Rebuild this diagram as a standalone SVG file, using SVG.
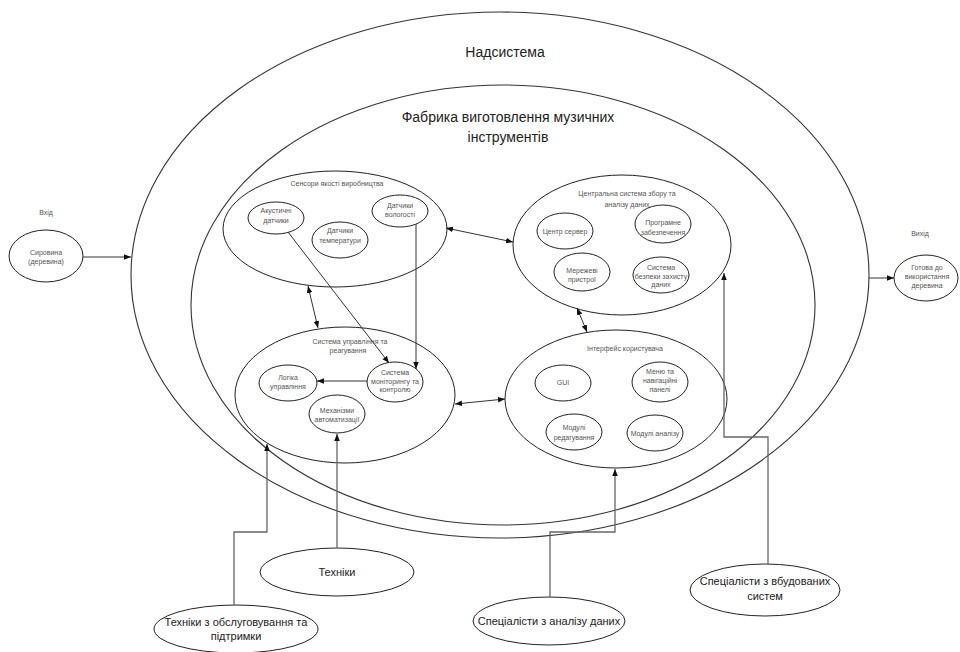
<svg xmlns="http://www.w3.org/2000/svg" width="960" height="652" viewBox="0 0 960 652">
  <defs>
    <marker id="arr" viewBox="0 0 10 10" refX="10" refY="5" markerWidth="7" markerHeight="7" orient="auto-start-reverse" markerUnits="userSpaceOnUse">
      <path d="M0,1 L10,5 L0,9 z" fill="#111"/>
    </marker>
    <style>
      .ell { fill: #fff; stroke: #222; stroke-width: 1; }
      .big { fill: none; stroke: #333; stroke-width: 1.1; }
      .sm { font-family: "Liberation Sans", Arial, sans-serif; font-size: 7px; fill: #555; text-anchor: middle; }
      .lg { font-family: "Liberation Sans", Arial, sans-serif; font-size: 14px; fill: #222; text-anchor: middle; }
      .md { font-family: "Liberation Sans", Arial, sans-serif; font-size: 11px; fill: #222; text-anchor: middle; }
      .ln { fill: none; stroke: #333; stroke-width: 1; }
      .pl { fill: none; stroke: #666; stroke-width: 1.3; }
    </style>
  </defs>
  <rect width="960" height="652" fill="#fff"/>

  <!-- system boundaries -->
  <g id="supersystem">
    <ellipse class="big" cx="500" cy="275" rx="369" ry="263"/>
    <text class="lg" x="505" y="57">Надсистема</text>
  </g>
  <g id="factory">
    <ellipse class="big" cx="503" cy="305" rx="312" ry="220"/>
    <text class="lg" x="508" y="122">Фабрика виготовлення музичних</text>
    <text class="lg" x="508" y="142">інструментів</text>
  </g>

  <!-- input / output -->
  <g id="input">
    <text class="sm" x="46" y="214.5">Вхід</text>
    <ellipse class="ell" cx="46" cy="256" rx="37" ry="26"/>
    <text class="sm" x="46" y="254.5">Сировина</text>
    <text class="sm" x="46" y="263.5">(деревина)</text>
  </g>
  <g id="output">
    <text class="sm" x="920" y="235.5">Вихід</text>
    <ellipse class="ell" cx="926" cy="278" rx="32" ry="23"/>
    <text class="sm" x="927" y="269.5">Готова до</text>
    <text class="sm" x="927" y="278.5">використання</text>
    <text class="sm" x="927" y="287.5">деревина</text>
  </g>

  <!-- sensors -->
  <g id="sensors">
    <ellipse class="ell" cx="335" cy="229" rx="112" ry="58"/>
    <text class="sm" x="337" y="185.5">Сенсори якості виробництва</text>
  </g>
  <g id="acoustic">
    <ellipse class="ell" cx="276" cy="218" rx="28" ry="16"/>
    <text class="sm" x="276" y="212.5">Акустичні</text>
    <text class="sm" x="276" y="222.5">датчики</text>
  </g>
  <g id="temperature">
    <ellipse class="ell" cx="340" cy="240" rx="28" ry="18"/>
    <text class="sm" x="340" y="232.5">Датчики</text>
    <text class="sm" x="340" y="242.5">температури</text>
  </g>
  <g id="humidity">
    <ellipse class="ell" cx="400" cy="211" rx="28" ry="16"/>
    <text class="sm" x="400" y="207.5">Датчики</text>
    <text class="sm" x="400" y="216.5">вологості</text>
  </g>

  <!-- central data system -->
  <g id="central">
    <ellipse class="ell" cx="622" cy="245" rx="109" ry="70"/>
    <text class="sm" x="627" y="195.5">Центральна система збору та</text>
    <text class="sm" x="627" y="206.5">аналізу даних</text>
  </g>
  <g id="server">
    <ellipse class="ell" cx="565" cy="231" rx="28" ry="18"/>
    <text class="sm" x="565" y="233.5">Центр сервер</text>
  </g>
  <g id="software">
    <ellipse class="ell" cx="663" cy="224" rx="28" ry="19"/>
    <text class="sm" x="663" y="224.5">Програмне</text>
    <text class="sm" x="663" y="234.5">забезпечення</text>
  </g>
  <g id="network">
    <ellipse class="ell" cx="582" cy="272" rx="28" ry="19"/>
    <text class="sm" x="582" y="272.5">Мережеві</text>
    <text class="sm" x="582" y="281.5">пристрої</text>
  </g>
  <g id="security">
    <ellipse class="ell" cx="661" cy="275" rx="28" ry="18"/>
    <text class="sm" x="661" y="269.5">Система</text>
    <text class="sm" x="661" y="278.5">безпеки захисту</text>
    <text class="sm" x="661" y="287">даних</text>
  </g>

  <!-- control system -->
  <g id="control">
    <ellipse class="ell" cx="345" cy="395" rx="110" ry="68"/>
    <text class="sm" x="350" y="343.5">Система управління та</text>
    <text class="sm" x="348" y="352.5">реагування</text>
  </g>
  <g id="logic">
    <ellipse class="ell" cx="288" cy="383" rx="29" ry="18"/>
    <text class="sm" x="288" y="379.5">Логіка</text>
    <text class="sm" x="288" y="388.5">управління</text>
  </g>
  <g id="monitoring">
    <ellipse class="ell" cx="395" cy="382" rx="28" ry="20"/>
    <text class="sm" x="395" y="374.5">Система</text>
    <text class="sm" x="395" y="383.5">моніторингу та</text>
    <text class="sm" x="395" y="392">контролю</text>
  </g>
  <g id="automation">
    <ellipse class="ell" cx="337" cy="414" rx="28" ry="19"/>
    <text class="sm" x="337" y="412.5">Механізми</text>
    <text class="sm" x="337" y="421.5">автоматизації</text>
  </g>

  <!-- user interface -->
  <g id="interface">
    <ellipse class="ell" cx="616" cy="399" rx="111" ry="69"/>
    <text class="sm" x="625" y="350.5">Інтерфейс користувача</text>
  </g>
  <g id="gui">
    <ellipse class="ell" cx="563" cy="383" rx="28" ry="18"/>
    <text class="sm" x="563" y="385">GUI</text>
  </g>
  <g id="menus">
    <ellipse class="ell" cx="660" cy="382" rx="28" ry="20"/>
    <text class="sm" x="660" y="373.5">Меню та</text>
    <text class="sm" x="660" y="382.5">навігаційні</text>
    <text class="sm" x="660" y="391.5">панелі</text>
  </g>
  <g id="editing">
    <ellipse class="ell" cx="574" cy="432" rx="28" ry="18"/>
    <text class="sm" x="574" y="429.5">Модулі</text>
    <text class="sm" x="574" y="439.5">редагування</text>
  </g>
  <g id="analysis">
    <ellipse class="ell" cx="655" cy="433" rx="28" ry="18"/>
    <text class="sm" x="655" y="435.5">Модулі аналізу</text>
  </g>

  <!-- people around the system -->
  <g id="technicians">
    <ellipse class="ell" cx="337" cy="572" rx="77" ry="24"/>
    <text class="md" x="337" y="576">Техніки</text>
  </g>
  <g id="maintenance">
    <ellipse class="ell" cx="236" cy="629" rx="82" ry="24"/>
    <text class="md" x="236" y="626">Техніки з обслуговування та</text>
    <text class="md" x="236" y="640">підтримки</text>
  </g>
  <g id="data-analysts">
    <ellipse class="ell" cx="549" cy="621" rx="76" ry="24"/>
    <text class="md" x="549" y="625">Спеціалісти з аналізу даних</text>
  </g>
  <g id="embedded">
    <ellipse class="ell" cx="765" cy="590" rx="75" ry="26"/>
    <text class="md" x="765" y="585">Спеціалісти з вбудованих</text>
    <text class="md" x="765" y="600">систем</text>
  </g>

  <!-- connectors -->
  <g id="connectors">
    <line class="ln" x1="83" y1="257" x2="131" y2="257" marker-end="url(#arr)"/>
    <line class="ln" x1="869" y1="278" x2="894" y2="278" marker-end="url(#arr)"/>
    <line class="ln" x1="446" y1="228" x2="513" y2="242" marker-start="url(#arr)" marker-end="url(#arr)"/>
    <line class="ln" x1="308" y1="286" x2="318" y2="328" marker-start="url(#arr)" marker-end="url(#arr)"/>
    <line class="ln" x1="288" y1="232" x2="389" y2="363" marker-end="url(#arr)"/>
    <line class="ln" x1="416" y1="224" x2="416" y2="369" marker-end="url(#arr)"/>
    <line class="ln" x1="367" y1="381" x2="317" y2="381" marker-end="url(#arr)"/>
    <line class="ln" x1="455" y1="404" x2="505" y2="399" marker-start="url(#arr)" marker-end="url(#arr)"/>
    <line class="ln" x1="577" y1="308" x2="587" y2="332" marker-start="url(#arr)" marker-end="url(#arr)"/>
    <polyline class="pl" points="337,548 337,434" marker-end="url(#arr)"/>
    <polyline class="pl" points="234,605 234,532 267,532 267,444" marker-end="url(#arr)"/>
    <polyline class="pl" points="550,597 550,532 615,532 615,469" marker-end="url(#arr)"/>
    <polyline class="pl" points="768,564 768,437 724,437 724,273" marker-end="url(#arr)"/>
  </g>
</svg>
